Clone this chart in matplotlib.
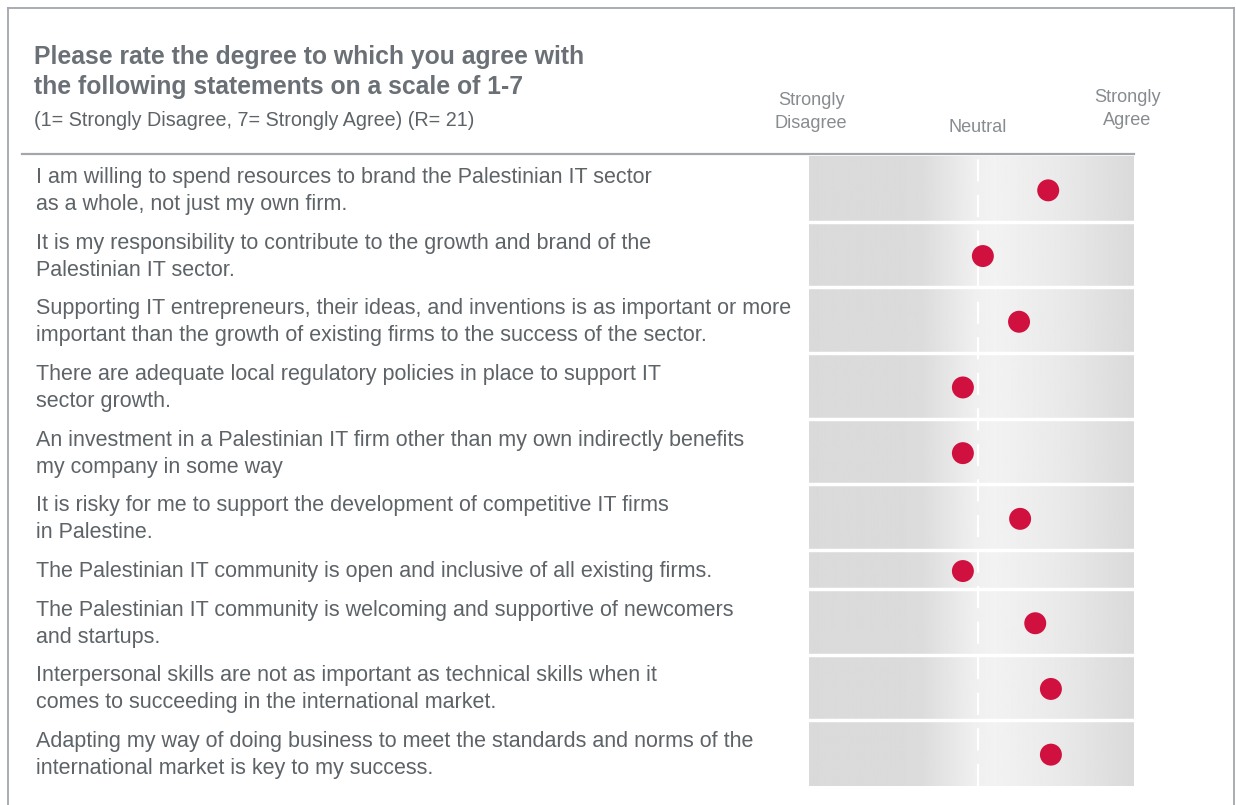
import numpy as np
import matplotlib.pyplot as plt
from matplotlib.lines import Line2D
from matplotlib.transforms import blended_transform_factory

# ---------------------------------------------------------------------------
# Data
# ---------------------------------------------------------------------------
TITLE = ["Please rate the degree to which you agree with",
         "the following statements on a scale of 1-7"]
SUBTITLE = "(1= Strongly Disagree, 7= Strongly Agree) (R= 21)"

statements = [
    ["I am willing to spend resources to brand the Palestinian IT sector",
     "as a whole, not just my own firm."],
    ["It is my responsibility to contribute to the growth and brand of the",
     "Palestinian IT sector."],
    ["Supporting IT entrepreneurs, their ideas, and inventions is as important or more",
     "important than the growth of existing firms to the success of the sector."],
    ["There are adequate local regulatory policies in place to support IT",
     "sector growth."],
    ["An investment in a Palestinian IT firm other than my own indirectly benefits",
     "my company in some way"],
    ["It is risky for me to support the development of competitive IT firms",
     "in Palestine."],
    ["The Palestinian IT community is open and inclusive of all existing firms."],
    ["The Palestinian IT community is welcoming and supportive of newcomers",
     "and startups."],
    ["Interpersonal skills are not as important as technical skills when it",
     "comes to succeeding in the international market."],
    ["Adapting my way of doing business to meet the standards and norms of the",
     "international market is key to my success."],
]
scores = [5.30, 4.09, 4.76, 3.72, 3.72, 4.78, 3.72, 5.06, 5.35, 5.35]

scale_labels = ["Strongly\nDisagree", "Neutral", "Strongly\nAgree"]
scale_values = [1, 4, 7]
NEUTRAL = 4

# ---------------------------------------------------------------------------
# Style
# ---------------------------------------------------------------------------
W, H = 1236, 805
FONT = "Liberation Sans"
C_TEXT = "#5d6367"
C_TITLE = "#6a7075"
C_HEAD = "#878c90"
C_RULE = "#a3a7ab"
C_DOT = "#d0103f"

LINE_H = 27            # px between text lines
ROW_PAD = 11.7         # px extra per row

plt.rcParams["font.family"] = [FONT, "DejaVu Sans"]


def fx(px):
    return px / W


def fy(py):
    return 1 - py / H


fig = plt.figure(figsize=(W / 100, H / 100), dpi=100)

# outer frame (open at the bottom)
frame_kw = dict(color=C_RULE, linewidth=1.3, transform=fig.transFigure)
fig.add_artist(Line2D([fx(8), fx(8)], [fy(8), 0], **frame_kw))
fig.add_artist(Line2D([fx(8), fx(1234)], [fy(8), fy(8)], **frame_kw))
fig.add_artist(Line2D([fx(1234), fx(1234)], [fy(8), 0], **frame_kw))

# header rule
fig.add_artist(Line2D([fx(22), fx(1134)], [fy(154), fy(154)],
                      color=C_RULE, linewidth=1.6, transform=fig.transFigure))

# title block
fig.text(fx(34), fy(57), TITLE[0], fontsize=17.8, fontweight="bold",
         color=C_TITLE, va="center", ha="left")
fig.text(fx(34), fy(87), TITLE[1], fontsize=17.8, fontweight="bold",
         color=C_TITLE, va="center", ha="left")
fig.text(fx(34), fy(120), SUBTITLE, fontsize=14.2, color=C_TEXT,
         va="center", ha="left")

# ---------------------------------------------------------------------------
# Panel with rows
# ---------------------------------------------------------------------------
heights = [ROW_PAD + LINE_H * len(s) for s in statements]
edges = np.concatenate([[0], np.cumsum(heights)])
centers = (edges[:-1] + edges[1:]) / 2
total = edges[-1]

PX_PER_UNIT = 54
x_lo = NEUTRAL + (809 - 978) / PX_PER_UNIT
x_hi = NEUTRAL + (1134 - 978) / PX_PER_UNIT

ax = fig.add_axes([fx(809), fy(156 + total), fx(1134) - fx(809), total / H])
ax.set_xlim(x_lo, x_hi)
ax.set_ylim(total, 0)
ax.axis("off")

# soft light band around neutral
gx = np.linspace(x_lo, x_hi, 400)
gp = NEUTRAL + (np.array([809, 920, 955, 975, 995, 1060, 1134]) - 978) / PX_PER_UNIT
gv = np.array([0.855, 0.86, 0.91, 0.94, 0.95, 0.915, 0.855])
grad = np.interp(gx, gp, gv)
ax.imshow(np.tile(grad, (2, 1)), cmap="gray", vmin=0, vmax=1,
          extent=[x_lo, x_hi, total, 0], aspect="auto", zorder=0)

# neutral dashed line
ax.axvline(NEUTRAL, color="white", linewidth=1.6, linestyle=(0, (10, 6)),
           zorder=1)

# row separators
for e in edges[1:-1]:
    ax.axhline(e, color="white", linewidth=2.5, zorder=2)

# dots
ax.scatter(scores, centers + 1.5, s=250, color=C_DOT, edgecolor="none",
           zorder=3)

# scale labels above panel
ax.text(0.91, -44, scale_labels[0], ha="center", va="center", fontsize=13.1,
        color=C_HEAD, linespacing=1.4)
ax.text(scale_values[1], -29, scale_labels[1], ha="center", va="center",
        fontsize=13.1, color=C_HEAD)
ax.text(6.76, -47, scale_labels[2], ha="center", va="center", fontsize=13.1,
        color=C_HEAD, linespacing=1.4)

# statements on the left, aligned to the rows
trans = blended_transform_factory(fig.transFigure, ax.transData)
for lines, yc in zip(statements, centers):
    n = len(lines)
    for k, line in enumerate(lines):
        y = yc + 2 + (k - (n - 1) / 2) * LINE_H
        ax.text(fx(36), y, line, transform=trans, ha="left", va="center",
                fontsize=15.5, color=C_TEXT, clip_on=False)

fig.savefig("out.png", dpi=100)
